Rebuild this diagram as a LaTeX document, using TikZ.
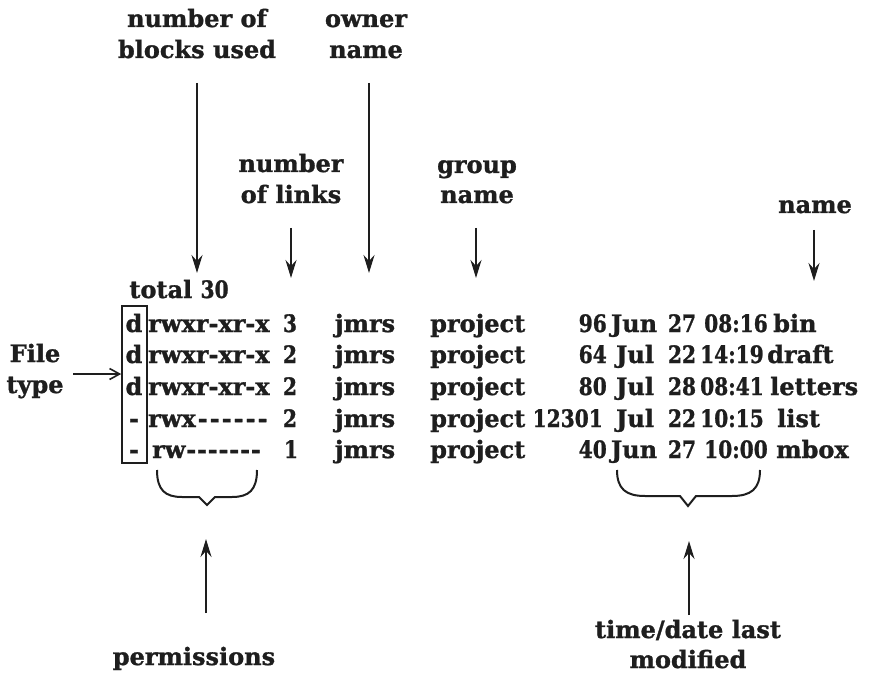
\documentclass[tikz,border=0pt]{standalone}
\usepackage{fontspec}
\setmainfont{DejaVu Serif}[BoldFeatures={FakeBold=1.2}]
\usetikzlibrary{arrows.meta}
\definecolor{ink}{HTML}{1E1E1E}
\newcommand\lsfont{\fontsize{24}{28}\selectfont\bfseries}
% figures are set a little narrower than the font gives them
\newcommand\nr[1]{\scalebox{0.84}[1]{#1}}
\tikzset{
  txt/.style={font=\lsfont, text=ink, inner sep=0pt, anchor=base},
  txtw/.style={txt, anchor=base west},
  txte/.style={txt, anchor=base east},
  dn/.style={draw=ink, line width=2.2pt, -{Stealth[length=18pt,width=11pt,inset=6pt]}},
  barb/.style={draw=ink, line width=1.6pt, -{Straight Barb[length=10pt,width=11pt,line width=1.6pt]}},
  brc/.style={draw=ink, line width=2pt, line join=miter},
}
\begin{document}
\begin{tikzpicture}[x=1pt,y=-1pt]
\useasboundingbox (0,0) rectangle (869,676);

% ---- column labels above the listing ----
\node[txt] (blk1) at (197,27) {number of};
\node[txt] (blk2) at (197,58) {blocks used};
\node[txt] (own1) at (366,27) {owner};
\node[txt] (own2) at (366,58) {name};
\node[txt] (lnk1) at (291,172) {number};
\node[txt] (lnk2) at (291,203) {of links};
\node[txt] (grp1) at (477,173) {group};
\node[txt] (grp2) at (477,203) {name};
\node[txt] (nam)  at (815,213) {name};

% ---- the listing ----
\node[txt] (tot) at (179,298) {total \nr{30}};

% file type column
\node[txt] (t1) at (134,332) {d};
\node[txt] (t2) at (134,363) {d};
\node[txt] (t3) at (134,395) {d};
\node[txt] (t4) at (134,427) {-};
\node[txt] (t5) at (134,458) {-};

% permissions
\newcommand\hg[1]{\hspace{#1}-{}}
\node[txtw] (p1) at (148,332) {rwxr-xr-x};
\node[txtw] (p2) at (148,363) {rwxr-xr-x};
\node[txtw] (p3) at (148,395) {rwxr-xr-x};
\node[txtw] (p4) at (148,427) {rwx\hg{2pt}\hg{2pt}\hg{2pt}\hg{2pt}\hg{2pt}\hg{2pt}};
\node[txtw] (p5) at (152,458) {rw\hg{0.8pt}\hg{0.8pt}\hg{0.8pt}\hg{0.8pt}\hg{0.8pt}\hg{0.8pt}\hg{0.8pt}};

% number of links
\node[txt] (l1) at (290,332) {\nr{3}};
\node[txt] (l2) at (290,363) {\nr{2}};
\node[txt] (l3) at (290,395) {\nr{2}};
\node[txt] (l4) at (290,427) {\nr{2}};
\node[txt] (l5) at (291,458) {\nr{1}};

% owner and group
\foreach \r/\y in {1/332,2/363,3/395,4/427,5/458}{
  \node[txt] (o\r) at (365,\y) {jmrs};
  \node[txtw] (g\r) at (430,\y) {project};
}

% size
\node[txte] (s1) at (607,332) {\nr{96}};
\node[txte] (s2) at (607,363) {\nr{64}};
\node[txte] (s3) at (607,395) {\nr{80}};
\node[txte] (s4) at (603,427) {\nr{12301}};
\node[txte] (s5) at (607,458) {\nr{40}};

% month
\node[txt] (m1) at (634,332) {Jun};
\node[txt] (m2) at (635,363) {Jul};
\node[txt] (m3) at (635,395) {Jul};
\node[txt] (m4) at (635,427) {Jul};
\node[txt] (m5) at (634,458) {Jun};

% day
\node[txt] (d1) at (682,332) {\nr{27}};
\node[txt] (d2) at (682,363) {\nr{22}};
\node[txt] (d3) at (682,395) {\nr{28}};
\node[txt] (d4) at (682,427) {\nr{22}};
\node[txt] (d5) at (682,458) {\nr{27}};

% time
\node[txtw] (h1) at (704,332) {\nr{08:16}};
\node[txtw] (h2) at (700,363) {\nr{14:19}};
\node[txtw] (h3) at (700,395) {\nr{08:41}};
\node[txtw] (h4) at (700,427) {\nr{10:15}};
\node[txtw] (h5) at (704,458) {\nr{10:00}};

% file name
\node[txtw] (f1) at (773,332) {bin};
\node[txtw] (f2) at (767,363) {draft};
\node[txtw] (f3) at (770,395) {letters};
\node[txtw] (f4) at (777,427) {list};
\node[txtw] (f5) at (776,458) {mbox};

% box round the file type column
\node[draw=ink, line width=1.6pt, inner sep=0pt, minimum width=25pt, minimum height=157pt] (tbox) at (134.5,384.5) {};

% ---- labels below / to the left ----
\node[txt] (ft1) at (35,362) {File};
\node[txt] (ft2) at (35,393) {type};
\node[txt] (perm) at (194,665) {permissions};
\node[txt] (tim1) at (688,638) {time/date last};
\node[txt] (tim2) at (688,668) {modified};

% ---- arrow end points ----
\coordinate (blkA) at (197,83);  \coordinate (blkB) at (197,273);
\coordinate (ownA) at (369,83);  \coordinate (ownB) at (369,273);
\coordinate (lnkA) at (291,228); \coordinate (lnkB) at (291,278);
\coordinate (grpA) at (476,228); \coordinate (grpB) at (476,278);
\coordinate (namA) at (814,230); \coordinate (namB) at (814,281);
\coordinate (prmA) at (206,613); \coordinate (prmB) at (206,539);
\coordinate (timA) at (689,615); \coordinate (timB) at (689,541);
\coordinate (ftA)  at (73,374);

\draw[dn] (blkA) -- (blkB);
\draw[dn] (ownA) -- (ownB);
\draw[dn] (lnkA) -- (lnkB);
\draw[dn] (grpA) -- (grpB);
\draw[dn] (namA) -- (namB);
\draw[dn] (prmA) -- (prmB);
\draw[dn] (timA) -- (timB);
\draw[barb] (ftA) -- (tbox.west |- ftA);

% ---- braces under permissions and time/date ----
\draw[brc] (157,470) .. controls (157,490) and (165,497) .. (182,497)
  -- (199,497) -- (207,505) -- (215,497) -- (232,497)
  .. controls (249,497) and (257,490) .. (257,470);
\draw[brc] (617,470) .. controls (617,489) and (626,496) .. (645,496)
  -- (680,496) -- (688,506) -- (696,496) -- (732,496)
  .. controls (751,496) and (760,489) .. (760,470);
\end{tikzpicture}
\end{document}
